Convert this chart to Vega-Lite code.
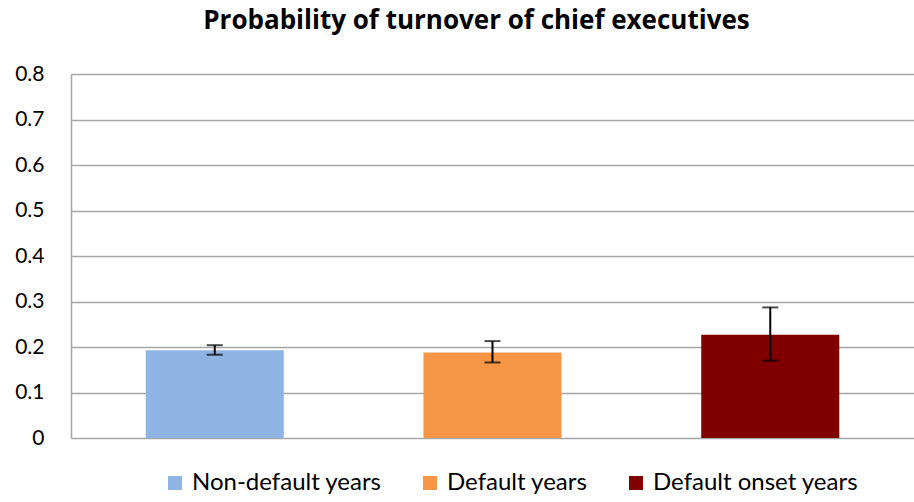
{
  "$schema": "https://vega.github.io/schema/vega-lite/v6.json",
  "autosize": "none",
  "width": 843,
  "height": 364,
  "padding": {"left": 71, "top": 74, "right": 0, "bottom": 64},
  "background": "white",
  "config": {"view": {"stroke": null}, "font": "Lato"},
  "title": {
    "text": "Probability of turnover of chief executives",
    "font": "Open Sans",
    "fontSize": 26,
    "fontWeight": "bold",
    "color": "black",
    "anchor": "middle",
    "dx": -16,
    "offset": 29
  },
  "data": {
    "values": [
      {"category": "Non-default years", "value": 0.193, "lo": 0.183, "hi": 0.204},
      {"category": "Default years", "value": 0.188, "lo": 0.166, "hi": 0.213},
      {"category": "Default onset years", "value": 0.227, "lo": 0.170, "hi": 0.287}
    ]
  },
  "encoding": {
    "x": {
      "field": "category",
      "type": "nominal",
      "sort": null,
      "axis": null,
      "scale": {"paddingInner": 0.503, "paddingOuter": 0.269}
    }
  },
  "layer": [
    {
      "mark": {"type": "bar"},
      "encoding": {
        "y": {
          "field": "value",
          "type": "quantitative",
          "scale": {"domain": [0, 0.8], "nice": false},
          "axis": {
            "title": null,
            "values": [0, 0.1, 0.2, 0.3, 0.4, 0.5, 0.6, 0.7, 0.8],
            "labelExpr": "datum.value == 0 ? '0' : format(datum.value, '.1f')",
            "labelFont": "Lato",
            "labelFontSize": 21,
            "labelColor": "black",
            "labelPadding": 27,
            "ticks": false,
            "grid": true,
            "gridColor": "#a6a6a6",
            "gridWidth": 1.5,
            "domain": true,
            "domainColor": "#a6a6a6",
            "domainWidth": 1.5
          }
        },
        "color": {
          "field": "category",
          "type": "nominal",
          "sort": null,
          "scale": {
            "domain": ["Non-default years", "Default years", "Default onset years"],
            "range": ["#8eb4e3", "#f79646", "#800000"]
          },
          "legend": {
            "title": null,
            "orient": "none",
            "direction": "horizontal",
            "legendX": 92,
            "legendY": 397,
            "padding": 0,
            "symbolType": "square",
            "symbolSize": 196,
            "symbolStrokeWidth": 0,
            "symbolOpacity": 1,
            "labelFont": "Lato",
            "labelFontSize": 24,
            "labelColor": "black",
            "labelOffset": 5,
            "columnPadding": 36,
            "labelLimit": 400
          }
        }
      }
    },
    {
      "mark": {"type": "rule", "color": "black", "strokeWidth": 2},
      "encoding": {
        "y": {"field": "lo", "type": "quantitative"},
        "y2": {"field": "hi"}
      }
    },
    {
      "mark": {"type": "tick", "color": "black", "thickness": 2, "size": 16},
      "encoding": {"y": {"field": "lo", "type": "quantitative"}}
    },
    {
      "mark": {"type": "tick", "color": "black", "thickness": 2, "size": 16},
      "encoding": {"y": {"field": "hi", "type": "quantitative"}}
    }
  ]
}
